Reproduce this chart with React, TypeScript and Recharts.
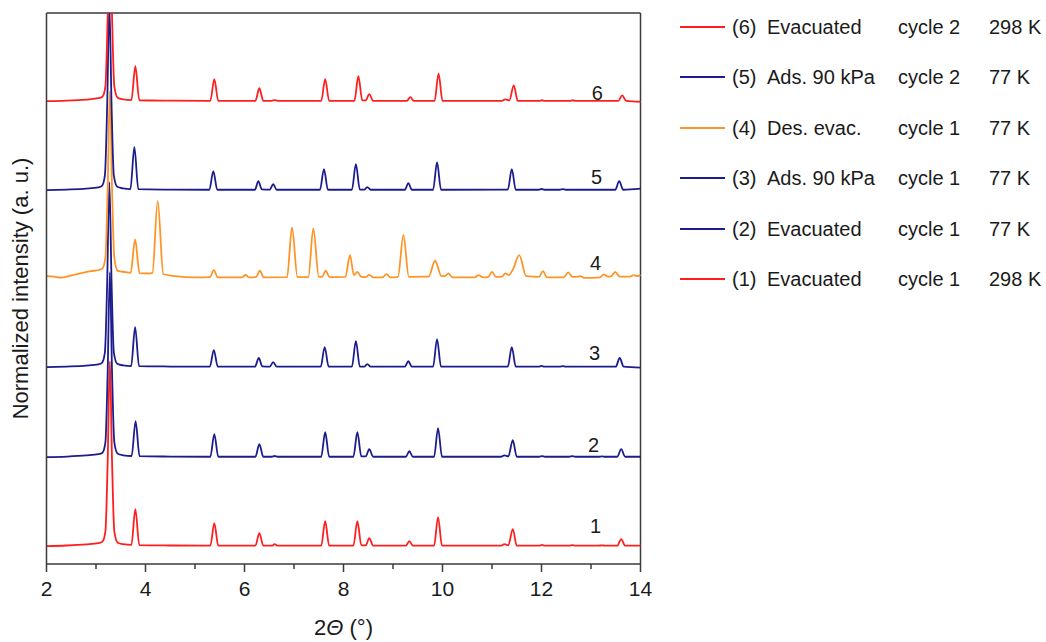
import React from 'react';
import { LineChart, Line, XAxis, YAxis, ReferenceLine, ReferenceDot, Legend } from 'recharts';

type Pt = [number, number];

// Powder patterns: [2θ (°), normalized intensity], strongest reflection = 100
const pattern1: Pt[] = [
  [2.0, 0], [2.4, 0.3], [2.8, 0.9], [3.05, 1.6], [3.13, 2.4], [3.19, 8], [3.235, 45], [3.28, 100],
  [3.325, 45], [3.37, 8], [3.44, 1.8], [3.55, 1.0], [3.715, 0.6], [3.795, 20], [3.875, 0.5], [4.5, 0.3],
  [5.31, 0.2], [5.39, 12.4], [5.47, 0.2], [6.22, 0.2], [6.3, 7], [6.38, 0.2], [6.55, 0.2], [6.61, 1],
  [6.67, 0.2], [7.55, 0.2], [7.63, 13.5], [7.71, 0.2], [8.2, 0.2], [8.28, 13.5], [8.36, 0.4], [8.45, 0.4],
  [8.52, 4.3], [8.6, 0.2], [9.26, 0.2], [9.33, 2.7], [9.4, 0.2], [9.83, 0.2], [9.91, 15.7], [9.99, 0.2],
  [11.18, 0.2], [11.25, 1], [11.33, 0.4], [11.42, 9.2], [11.5, 0.2], [11.95, 0.2], [12.01, 0.6], [12.07, 0.2],
  [12.56, 0.2], [12.62, 0.5], [12.68, 0.2], [13.15, 0.2], [13.22, 0.4], [13.29, 0.2], [13.53, 0.2],
  [13.61, 3.8], [13.69, 0.2], [14.0, 0.2],
];

const pattern2: Pt[] = [
  [2.0, 0], [2.4, 0.3], [2.8, 0.9], [3.05, 1.6], [3.13, 2.4], [3.19, 8], [3.235, 45], [3.28, 100],
  [3.325, 45], [3.37, 8], [3.44, 1.8], [3.55, 1.0], [3.72, 0.6], [3.8, 19.5], [3.88, 0.5], [4.5, 0.3],
  [5.31, 0.2], [5.39, 12.4], [5.47, 0.2], [6.22, 0.2], [6.3, 7], [6.38, 0.2], [6.55, 0.2], [6.61, 0.6],
  [6.67, 0.2], [7.55, 0.2], [7.63, 13.5], [7.71, 0.2], [8.2, 0.2], [8.28, 13.5], [8.36, 0.4], [8.45, 0.4],
  [8.52, 4.3], [8.6, 0.2], [9.26, 0.2], [9.33, 3.2], [9.4, 0.2], [9.83, 0.2], [9.91, 15.7], [9.99, 0.2],
  [11.18, 0.2], [11.25, 1], [11.33, 0.4], [11.42, 9.2], [11.5, 0.2], [11.95, 0.2], [12.01, 0.5], [12.07, 0.2],
  [12.56, 0.2], [12.62, 0.5], [12.68, 0.2], [13.15, 0.2], [13.22, 0.4], [13.29, 0.2], [13.53, 0.2],
  [13.61, 4.3], [13.69, 0.2], [14.0, 0.2],
];

const pattern3: Pt[] = [
  [2.0, 0], [2.4, 0.3], [2.8, 0.8], [3.05, 1.5], [3.12, 2.3], [3.18, 8], [3.225, 45], [3.27, 100],
  [3.315, 45], [3.36, 8], [3.43, 1.8], [3.55, 0.9], [3.71, 0.5], [3.79, 21.6], [3.87, 0.5], [4.5, 0.3],
  [5.3, 0.2], [5.38, 9.2], [5.46, 0.2], [6.21, 0.2], [6.29, 4.9], [6.36, 0.4], [6.51, 0.3], [6.58, 2.7],
  [6.65, 0.2], [7.54, 0.2], [7.62, 10.8], [7.7, 0.2], [8.17, 0.2], [8.25, 14], [8.33, 0.3], [8.42, 0.3],
  [8.48, 1.6], [8.55, 0.2], [9.24, 0.2], [9.31, 3.2], [9.38, 0.2], [9.81, 0.2], [9.89, 15.1], [9.97, 0.2],
  [11.32, 0.3], [11.4, 10.8], [11.48, 0.2], [11.94, 0.2], [12.0, 0.6], [12.06, 0.2], [12.37, 0.2],
  [12.43, 0.5], [12.49, 0.2], [13.5, 0.2], [13.58, 4.9], [13.66, 0.2], [14.0, -0.3],
];

const pattern4: Pt[] = [
  [2.0, 0], [2.15, -0.3], [2.3, -0.8], [2.45, 0], [2.6, 1], [2.75, 1.9], [2.9, 2.7], [3.05, 3.3],
  [3.13, 4.2], [3.19, 10], [3.235, 46], [3.28, 100], [3.325, 46], [3.37, 10], [3.44, 2.8], [3.6, 2.2],
  [3.7, 1.8], [3.79, 19.8], [3.88, 1.6], [4.05, 1.4], [4.14, 1.8], [4.246, 40.5], [4.36, 1.0], [4.6, 0],
  [5.0, -0.7], [5.3, -0.6], [5.38, 3.2], [5.46, -0.7], [5.95, -0.7], [6.02, 0.6], [6.09, -0.7],
  [6.23, -0.6], [6.31, 2.9], [6.39, -0.7], [6.86, -0.6], [6.96, 26.3], [7.07, -0.6], [7.29, -0.5],
  [7.39, 25.8], [7.5, -0.3], [7.57, -0.4], [7.64, 2.9], [7.72, -0.6], [8.04, -0.4], [8.13, 11.4],
  [8.21, 0.6], [8.28, 2.3], [8.36, -0.4], [8.45, -0.5], [8.52, 0.7], [8.6, -0.7], [8.79, -0.7],
  [8.87, 1.1], [8.95, -0.7], [9.1, -0.4], [9.21, 22.2], [9.32, -0.4], [9.72, -0.3], [9.85, 8.3],
  [9.98, 0], [10.05, 0], [10.12, 1.5], [10.2, -0.7], [10.65, -0.7], [10.73, 0.5], [10.82, -0.7],
  [10.92, -0.6], [11.0, 2.3], [11.08, -0.4], [11.2, -0.3], [11.27, 1.5], [11.34, 0.6], [11.42, 3.5],
  [11.55, 11.4], [11.69, 0], [11.95, -0.4], [12.03, 2.7], [12.11, -0.7], [12.45, -0.7], [12.54, 2.0],
  [12.63, -0.4], [12.72, -0.4], [12.79, 0], [12.86, -1.0], [13.18, -0.7], [13.26, 0.9], [13.34, -0.3],
  [13.41, 0], [13.49, 2.3], [13.58, -0.3], [13.78, -0.3], [13.86, 0.5], [13.94, 0], [14.0, 0.5],
];

const pattern5: Pt[] = [
  [2.0, 0], [2.4, 0.3], [2.8, 0.8], [3.05, 1.5], [3.12, 2.3], [3.18, 8], [3.225, 45], [3.27, 100],
  [3.315, 45], [3.36, 8], [3.43, 1.8], [3.55, 0.9], [3.695, 0.5], [3.775, 23.2], [3.855, 0.5], [4.5, 0.3],
  [5.29, 0.2], [5.37, 10.3], [5.45, 0.2], [6.21, 0.2], [6.28, 4.9], [6.35, 0.4], [6.51, 0.3], [6.58, 3.2],
  [6.65, 0.2], [7.525, 0.2], [7.605, 11.4], [7.685, 0.2], [8.17, 0.2], [8.25, 14], [8.33, 0.3],
  [8.42, 0.3], [8.48, 1.6], [8.55, 0.2], [9.24, 0.2], [9.31, 3.8], [9.38, 0.2], [9.81, 0.2], [9.89, 15.1],
  [9.97, 0.2], [11.32, 0.3], [11.4, 11.4], [11.48, 0.2], [11.94, 0.2], [12.0, 0.6], [12.06, 0.2],
  [12.37, 0.2], [12.43, 0.5], [12.49, 0.2], [13.49, 0.2], [13.57, 4.9], [13.65, 0.2], [14.0, 0.8],
];

const pattern6: Pt[] = [
  [2.0, 0], [2.4, 0.3], [2.8, 0.9], [3.05, 1.6], [3.13, 2.4], [3.19, 8], [3.235, 45], [3.28, 100],
  [3.325, 45], [3.37, 8], [3.44, 1.8], [3.55, 1.0], [3.715, 0.6], [3.795, 18.9], [3.875, 0.5], [4.5, 0.3],
  [5.31, 0.2], [5.39, 11.9], [5.47, 0.2], [6.22, 0.2], [6.3, 7], [6.38, 0.2], [6.55, 0.2], [6.61, 0.6],
  [6.67, 0.2], [7.55, 0.2], [7.63, 11.9], [7.71, 0.2], [8.22, 0.2], [8.3, 13.5], [8.38, 0.4], [8.45, 0.4],
  [8.52, 3.8], [8.6, 0.2], [9.28, 0.2], [9.35, 2.2], [9.42, 0.2], [9.84, 0.2], [9.92, 15.1], [10.0, 0.2],
  [11.2, 0.2], [11.27, 1], [11.35, 0.4], [11.44, 8.6], [11.52, 0.2], [11.95, 0.2], [12.01, 0.5],
  [12.07, 0.2], [12.57, 0.2], [12.63, 0.5], [12.69, 0.2], [13.55, 0.2], [13.63, 3.2], [13.71, 0.2],
  [14.0, -0.3],
];

// Vertical stacking offset of each pattern (same units as intensity)
const traceOffsets = [9.7, 57.8, 106.5, 155.7, 202.2, 250.3];

// Series descriptions
const traceNumbers = ['1', '2', '3', '4', '5', '6'];
const traceConditions = ['Evacuated', 'Evacuated', 'Ads. 90 kPa', 'Des. evac.', 'Ads. 90 kPa', 'Evacuated'];
const traceCycles = ['cycle 1', 'cycle 1', 'cycle 1', 'cycle 1', 'cycle 2', 'cycle 2'];
const traceTemps = ['298 K', '77 K', '77 K', '77 K', '77 K', '298 K'];

// Where the curve numbers sit, in axis units
const traceLabelX = [13.09, 13.05, 13.07, 13.09, 13.11, 13.13];
const traceLabelY = [20.5, 64.3, 114.1, 162.7, 209.2, 254.6];

// Axis values
const xDomain: [number, number] = [2, 14];
const xTicks = [2, 3, 4, 5, 6, 7, 8, 9, 10, 11, 12, 13, 14];
const yDomain: [number, number] = [0, 298];

const RED = '#ff1e1e';
const NAVY = '#1c1c8e';
const ORANGE = '#ff9426';
const traceColors = [RED, NAVY, NAVY, ORANGE, NAVY, RED];
const AXIS = '#3a3a3a';
const TEXT = '#1a1a1a';
const FONT = '"Liberation Sans", Arial, Helvetica, sans-serif';

const patterns = [pattern1, pattern2, pattern3, pattern4, pattern5, pattern6];
const seriesData = patterns.map((p, i) => p.map(([x, y]) => ({ x, y: y + traceOffsets[i] })));

function XTick(props: any) {
  const { x, y, payload } = props;
  const v = payload.value as number;
  const major = v % 2 === 0;
  return (
    <g>
      <line x1={x} x2={x} y1={y} y2={y + (major ? 8 : 5)} stroke={AXIS} strokeWidth={1.5} />
      {major && (
        <text x={x} y={y + 32} textAnchor="middle" fontSize={21} fill={TEXT} fontFamily={FONT}>
          {v}
        </text>
      )}
    </g>
  );
}

function YTitle(props: any) {
  const vb = props.viewBox || { x: 0, y: 0, width: 0, height: 0 };
  const x = vb.x + 28;
  const y = vb.y + vb.height / 2;
  return (
    <text x={x} y={y} transform={`rotate(-90, ${x}, ${y})`} textAnchor="middle" fontSize={22} fill={TEXT} fontFamily={FONT}>
      Normalized intensity (a. u.)
    </text>
  );
}

function XTitle(props: any) {
  const vb = props.viewBox || { x: 0, y: 0, width: 0, height: 0 };
  return (
    <text x={vb.x + vb.width / 2} y={vb.y + 71} textAnchor="middle" fontSize={22} fill={TEXT} fontFamily={FONT}>
      2<tspan fontStyle="italic">Θ</tspan> (°)
    </text>
  );
}

function TraceNumber(props: any) {
  const vb = props.viewBox || { x: 0, y: 0, width: 0, height: 0 };
  return (
    <text x={vb.x + vb.width / 2} y={vb.y + vb.height / 2 + 7} textAnchor="middle" fontSize={20} fill={TEXT} fontFamily={FONT}>
      {props.value}
    </text>
  );
}

function LegendBox() {
  const order = [5, 4, 3, 2, 1, 0];
  return (
    <div style={{ position: 'relative', width: 360, height: 290, fontFamily: FONT, color: TEXT }}>
      {order.map((i, row) => (
        <div
          key={i}
          style={{ position: 'absolute', left: 0, top: row * 50.4, width: 360, height: 24, fontSize: 20, lineHeight: '24px', whiteSpace: 'nowrap' }}
        >
          <svg width={46} height={24} style={{ position: 'absolute', left: 0, top: 0 }}>
            <line x1={0} x2={45} y1={12} y2={12} stroke={traceColors[i]} strokeWidth={1.8} />
          </svg>
          <span style={{ position: 'absolute', left: 52 }}>({traceNumbers[i]})</span>
          <span style={{ position: 'absolute', left: 87 }}>{traceConditions[i]}</span>
          <span style={{ position: 'absolute', left: 218 }}>{traceCycles[i]}</span>
          <span style={{ position: 'absolute', left: 309 }}>{traceTemps[i]}</span>
        </div>
      ))}
    </div>
  );
}

export default function App() {
  return (
    <div style={{ position: 'absolute', left: 0, top: 0, width: 1046, height: 642, background: '#fff', fontFamily: FONT }}>
      <LineChart width={1046} height={642} margin={{ top: 13, right: 405.5, bottom: 38, left: 0 }}>
        <XAxis
          type="number"
          dataKey="x"
          domain={xDomain}
          ticks={xTicks}
          interval={0}
          height={40}
          tickSize={0}
          tickMargin={0}
          tickLine={false}
          axisLine={{ stroke: AXIS, strokeWidth: 1.5 }}
          tick={(p: any) => <XTick {...p} />}
          label={{ content: XTitle }}
        />
        <YAxis
          type="number"
          domain={yDomain}
          allowDataOverflow
          width={46.5}
          tick={false}
          tickLine={false}
          axisLine={{ stroke: AXIS, strokeWidth: 1.5 }}
          label={{ content: YTitle }}
        />
        <ReferenceLine y={yDomain[1]} stroke={AXIS} strokeWidth={1.5} />
        <ReferenceLine x={xDomain[1]} stroke={AXIS} strokeWidth={1.5} />
        {seriesData.map((d, i) => (
          <Line
            key={i}
            data={d}
            dataKey="y"
            name={`(${traceNumbers[i]})`}
            type="monotone"
            stroke={traceColors[i]}
            strokeWidth={1.8}
            dot={false}
            activeDot={false}
            isAnimationActive={false}
          />
        ))}
        {traceNumbers.map((n, i) => (
          <ReferenceDot
            key={`lbl${n}`}
            x={traceLabelX[i]}
            y={traceLabelY[i]}
            r={0}
            fill="none"
            stroke="none"
            label={{ value: n, content: TraceNumber }}
          />
        ))}
        <Legend
          layout="vertical"
          align="center"
          verticalAlign="middle"
          content={() => <LegendBox />}
          wrapperStyle={{ left: 680, top: 15, width: 360, height: 290 }}
        />
      </LineChart>
    </div>
  );
}
